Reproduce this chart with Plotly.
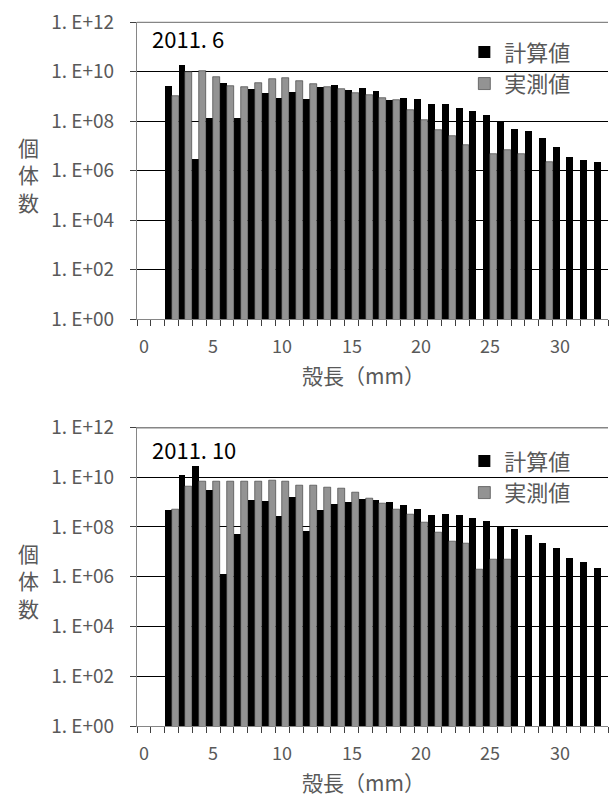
import plotly.graph_objects as go

categories = list(range(34))
x_data = list(range(2, 34))

top_calc = [2.5e9, 1.9e10, 2.8e6, 1.3e8, 3.5e9, 1.3e8, 1.9e9, 1.4e9, 8.9e8, 1.5e9,
            8.1e8, 2.4e9, 2.8e9, 1.8e9, 2.2e9, 1.7e9, 7.4e8, 8.9e8, 8.1e8, 4.8e8,
            4.8e8, 3.5e8, 2.6e8, 1.8e8, 1.05e8, 4.9e7, 3.9e7, 2.0e7, 8.9e6, 3.7e6,
            2.6e6, 2.3e6]
top_obs = [1.05e9, 1.0e10, 1.07e10, 6.2e9, 2.6e9, 2.3e9, 3.5e9, 4.8e9, 5.6e9, 4.1e9,
           3.1e9, 2.4e9, 1.9e9, 1.4e9, 1.15e9, 8.7e8, 6.8e8, 2.9e8, 1.1e8, 4.2e7,
           2.4e7, 1.05e7, None, 4.8e6, 6.5e6, 4.8e6, None, 2.3e6, None, None,
           None, None]
bot_calc = [4.8e8, 1.15e10, 2.8e10, 2.9e9, 1.26e6, 5.1e7, 1.2e9, 1.1e9, 2.6e8, 1.55e9,
            6.8e7, 4.5e8, 8.3e8, 9.3e8, 1.3e9, 1.2e9, 1.0e9, 7.6e8, 5.2e8, 3.0e8,
            3.3e8, 3.0e8, 2.3e8, 1.6e8, 9.5e7, 8.3e7, 4.7e7, 2.2e7, 1.4e7, 5.2e6,
            3.8e6, 2.1e6]
bot_obs = [5.1e8, 4.3e9, 6.5e9, 6.8e9, 6.8e9, 6.8e9, 6.8e9, 7.4e9, 6.8e9, 4.7e9,
           4.7e9, 3.9e9, 3.4e9, 2.4e9, 1.4e9, 8.9e8, 5.2e8, 3.2e8, 1.55e8, 5.9e7,
           2.7e7, 2.1e7, 1.95e6, 5.1e6, 5.1e6, None, None, None, None, None,
           None, None]

y_tickvals = [1, 1e2, 1e4, 1e6, 1e8, 1e10, 1e12]
y_ticktext = ["1. E+00", "1. E+02", "1. E+04", "1. E+06", "1. E+08", "1. E+10", "1. E+12"]
x_tickvals = [0, 5, 10, 15, 20, 25, 30]
x_ticktext = ["0", "5", "10", "15", "20", "25", "30"]
x_boundaries = [c - 0.5 for c in categories] + [33.5]

name_calc = "計算値"
name_obs = "実測値"
titles = ["2011. 6", "2011. 10"]
x_title = "殻長（mm）"
y_title = "個<br>体<br>数"

FONT = "Noto Sans CJK JP"
GREY_TXT = "#595959"

# page body margin is removed by post_script, so figure coords = page coords
W, H = 613, 796
L, R, T, B = 136.7, 4.7, 22, 70.3
PW = W - L - R
PH = H - T - B

obs_marker = dict(color="#a6a6a6",
                  pattern=dict(shape=".", bgcolor="#cdcdcd", fgcolor="#4a4a4a",
                               size=2, solidity=0.5, fillmode="replace"),
                  line=dict(color="#303030", width=0.6))

fig = go.Figure()
fig.add_trace(go.Bar(x=x_data, y=top_calc, name=name_calc, marker=dict(color="black", line=dict(width=0)),
                     xaxis="x", yaxis="y", legend="legend"))
fig.add_trace(go.Bar(x=x_data, y=top_obs, name=name_obs, marker=obs_marker,
                     xaxis="x", yaxis="y", legend="legend"))
fig.add_trace(go.Bar(x=x_data, y=bot_calc, name=name_calc, marker=dict(color="black", line=dict(width=0)),
                     xaxis="x2", yaxis="y2", legend="legend2"))
fig.add_trace(go.Bar(x=x_data, y=bot_obs, name=name_obs, marker=obs_marker,
                     xaxis="x2", yaxis="y2", legend="legend2"))

def xaxis(anchor):
    return dict(anchor=anchor, range=[-0.5, 33.5], tickmode="array", tickvals=x_boundaries,
                ticktext=[""] * len(x_boundaries), ticks="outside", ticklen=6,
                tickcolor="#404040", tickwidth=1, showline=True, linecolor="#868686", linewidth=1.3,
                showgrid=False, zeroline=False, automargin=False)

def yaxis(anchor, domain):
    return dict(anchor=anchor, domain=domain, type="log", range=[0, 12.0001], tickmode="array",
                tickvals=y_tickvals, ticktext=y_ticktext, ticks="outside", ticklen=6,
                tickcolor="#404040", showline=True, linecolor="#868686", linewidth=1.3,
                showgrid=True, gridcolor="black", gridwidth=1, zeroline=False, automargin=False,
                ticklabeloverflow="allow",
                tickfont=dict(family=FONT, size=19, color=GREY_TXT), ticklabelstandoff=12)

top_dom = [1 - (319 - T) / PH, 1.0]
bot_dom = [0.0, (H - B - 427.3) / PH]

fig.update_layout(
    width=W, height=H,
    margin=dict(l=L, r=R, t=T, b=B, autoexpand=False, pad=0),
    paper_bgcolor="white", plot_bgcolor="white",
    barmode="group", bargap=0, bargroupgap=0,
    xaxis=xaxis("y"), yaxis=yaxis("x", top_dom),
    xaxis2=xaxis("y2"), yaxis2=yaxis("x2", bot_dom),
    showlegend=True,
    legend=dict(x=0.695, y=0.987, xanchor="left", yanchor="top", bgcolor="rgba(0,0,0,0)",
                font=dict(family=FONT, size=22, color=GREY_TXT), itemwidth=30,
                tracegroupgap=0),
    legend2=dict(x=0.695, y=0.406, xanchor="left", yanchor="top", bgcolor="rgba(0,0,0,0)",
                 font=dict(family=FONT, size=22, color=GREY_TXT), itemwidth=30,
                 tracegroupgap=0),
)

shapes = []
for y_paper in [top_dom[1], bot_dom[1]]:
    shapes.append(dict(type="line", xref="paper", yref="paper", x0=0, x1=1,
                       y0=y_paper - 0.3 / PH, y1=y_paper - 0.3 / PH,
                       line=dict(color="#868686", width=1.3), layer="above"))
fig.update_layout(shapes=shapes)

annotations = []
for (t, xr, yr, dh, off) in [(titles[0], "x", "y domain", top_dom, 16),
                              (titles[1], "x2", "y2 domain", bot_dom, 21.5)]:
    hpx = (dh[1] - dh[0]) * PH
    annotations.append(dict(text=t, xref=xr + " domain", yref=yr, x=0.028, y=1 - off / hpx,
                            xanchor="left", yanchor="middle",
                            showarrow=False, font=dict(family=FONT, size=22, color="black")))
    for v, s in zip(x_tickvals, x_ticktext):
        annotations.append(dict(text=s, xref=xr, yref=yr, x=v, y=-26 / hpx, xanchor="center",
                                yanchor="middle", showarrow=False,
                                font=dict(family=FONT, size=18, color=GREY_TXT)))
    annotations.append(dict(text=x_title, xref=xr + " domain", yref=yr, x=0.48, y=-55.5 / hpx,
                            yanchor="middle", showarrow=False,
                            font=dict(family=FONT, size=21, color=GREY_TXT)))
for yc in [174, 580]:
    annotations.append(dict(text=y_title, xref="paper", yref="paper",
                            x=(28 - L) / PW, y=(H - B - yc) / PH, xanchor="center", yanchor="middle",
                            showarrow=False, align="center",
                            font=dict(family=FONT, size=21, color=GREY_TXT)))
fig.update_layout(annotations=annotations)

fig.write_html("out.html", config={"displayModeBar": False},
               post_script="document.body.style.margin='0';document.body.style.overflow='hidden';")
